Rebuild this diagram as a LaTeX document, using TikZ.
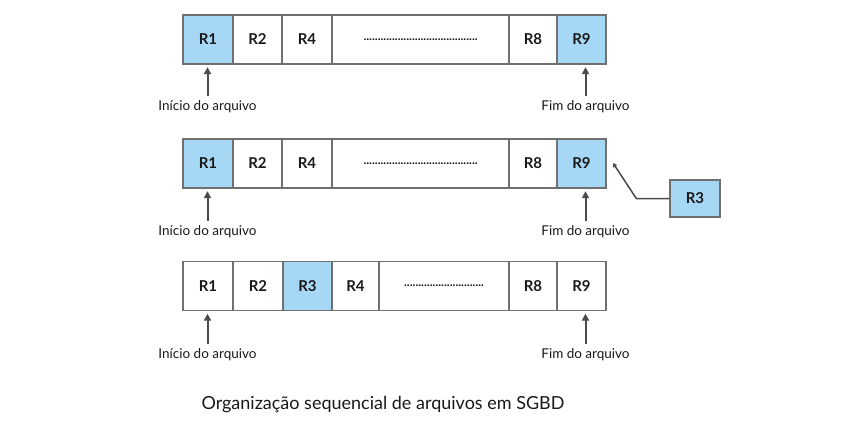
\documentclass[tikz,border=0pt]{standalone}
\usepackage{fontspec}
\setmainfont{Lato}
\usepackage{xcolor}
\usetikzlibrary{arrows.meta,positioning}
\definecolor{azulclaro}{RGB}{166,216,246}
\definecolor{borda}{RGB}{112,112,112}
\definecolor{cinza}{RGB}{75,75,75}
\definecolor{texto}{RGB}{25,25,25}

\begin{document}
\begin{tikzpicture}[x=1pt,y=-1pt,
    celula/.style={draw=borda,line width=1.3pt,minimum height=49pt,inner sep=0pt,text=texto,font=\bfseries\fontsize{15}{15}\selectfont},
    marcado/.style={celula,fill=azulclaro},
    pontos/.style={celula,font=\bfseries\fontsize{12}{12}\selectfont},
    rotulo/.style={inner sep=0pt,text=texto,font=\fontsize{13.5}{13.5}\selectfont},
    seta/.style={draw=cinza,line width=2pt,shorten <=5pt,shorten >=2.5pt,-{Triangle[length=7pt,width=7pt]}}]
  \useasboundingbox (0,0) rectangle (868,426);

  % primeira linha
  \node[marcado,minimum width=50pt] (a1) at (208,39.5) {R1};
  \node[celula,minimum width=49pt] (a2) at (257.5,39.5) {R2};
  \node[celula,minimum width=50pt] (a4) at (307,39.5) {R4};
  \node[pontos,minimum width=177pt] (ad) at (420.5,39.5) {........................................};
  \node[celula,minimum width=48pt] (a8) at (533,39.5) {R8};
  \node[marcado,minimum width=49pt] (a9) at (581.5,39.5) {R9};
  \node[rotulo] (ini1) at (207.5,107) {Início do arquivo};
  \node[rotulo] (fim1) at (585.5,107) {Fim do arquivo};
  \draw[seta] (ini1.north) -- (ini1.north |- a1.south);
  \draw[seta] (fim1.north) -- (fim1.north |- a9.south);

  % segunda linha
  \node[marcado,minimum width=50pt] (b1) at (208,163.5) {R1};
  \node[celula,minimum width=49pt] (b2) at (257.5,163.5) {R2};
  \node[celula,minimum width=50pt] (b4) at (307,163.5) {R4};
  \node[pontos,minimum width=177pt] (bd) at (420.5,163.5) {........................................};
  \node[celula,minimum width=48pt] (b8) at (533,163.5) {R8};
  \node[marcado,minimum width=49pt] (b9) at (581.5,163.5) {R9};
  \node[rotulo] (ini2) at (207.5,232) {Início do arquivo};
  \node[rotulo] (fim2) at (585.5,232) {Fim do arquivo};
  \draw[seta] (ini2.north) -- (ini2.north |- b1.south);
  \draw[seta] (fim2.north) -- (fim2.north |- b9.south);
  \node[marcado,minimum width=50pt,minimum height=37pt] (novo) at (695,198.5) {R3};
  \coordinate (alvo) at (613,163);
  \draw[draw=cinza,line width=1.5pt,-{Triangle[length=4pt,width=4.5pt]}] (novo.west) -- ++(-33,0) -- (alvo);

  % terceira linha
  \node[celula,minimum width=50pt] (c1) at (208,286) {R1};
  \node[celula,minimum width=50pt] (c2) at (258,286) {R2};
  \node[marcado,minimum width=49pt] (c3) at (307.5,286) {R3};
  \node[celula,minimum width=47pt] (c4) at (355.5,286) {R4};
  \node[pontos,minimum width=130pt] (cd) at (444,286) {............................};
  \node[celula,minimum width=48pt] (c8) at (533,286) {R8};
  \node[celula,minimum width=49pt] (c9) at (581.5,286) {R9};
  \node[rotulo] (ini3) at (207.5,355) {Início do arquivo};
  \node[rotulo] (fim3) at (585.5,355) {Fim do arquivo};
  \draw[seta] (ini3.north) -- (ini3.north |- c1.south);
  \draw[seta] (fim3.north) -- (fim3.north |- c9.south);

  \node[text=texto,font=\fontsize{18}{18}\selectfont] (legenda) at (383,405) {Organização sequencial de arquivos em SGBD};
\end{tikzpicture}
\end{document}
